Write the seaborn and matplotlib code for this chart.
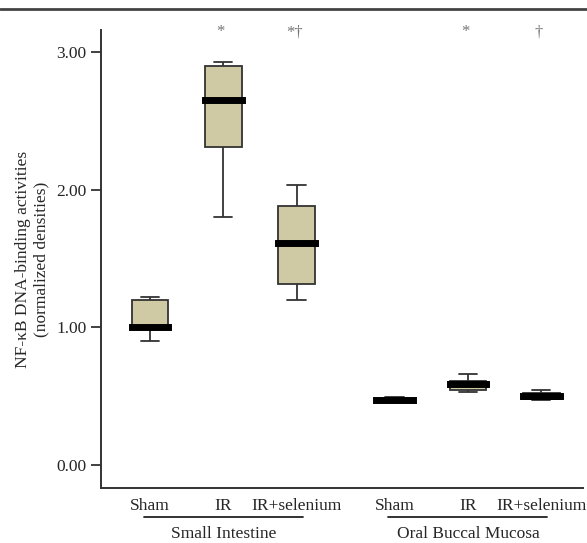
import matplotlib
matplotlib.use('Agg')
import matplotlib.pyplot as plt
import numpy as np
import pandas as pd
import seaborn as sns
from matplotlib.lines import Line2D

TISSUES = ['Small Intestine', 'Oral Buccal Mucosa']
TREATMENTS = ['Sham', 'IR', 'IR+selenium']
# five values per box: min, Q1, median, Q3, max
SI_SHAM = [0.90, 1.00, 1.00, 1.20, 1.22]
SI_IR = [1.80, 2.31, 2.65, 2.90, 2.93]
SI_IRSE = [1.20, 1.31, 1.61, 1.88, 2.03]
OB_SHAM = [0.46, 0.465, 0.47, 0.48, 0.49]
OB_IR = [0.53, 0.545, 0.585, 0.61, 0.66]
OB_IRSE = [0.47, 0.475, 0.50, 0.52, 0.54]
MARKS = ['', '*', '*\u2020', '', '*', '\u2020']

rows = []
for tissue, groups in zip(TISSUES, [[SI_SHAM, SI_IR, SI_IRSE], [OB_SHAM, OB_IR, OB_IRSE]]):
    for treat, vals in zip(TREATMENTS, groups):
        for v in vals:
            rows.append({'tissue': tissue, 'treatment': treat, 'value': v})
df = pd.DataFrame(rows)

sns.set_style('white')
plt.rcParams['font.family'] = ['Liberation Serif', 'DejaVu Serif']

fig = plt.figure(figsize=(5.87, 5.43), dpi=100)
ax = fig.add_axes([0.172, 0.101, 0.821, 0.844])

WIDTH = 0.9
sns.boxplot(data=df, x='tissue', y='value', hue='treatment', order=TISSUES, hue_order=TREATMENTS,
            palette=['#d6d09c'] * 3, width=WIDTH, gap=0.5, whis=(0, 100), linecolor='#333333',
            linewidth=1.3, legend=False, ax=ax,
            medianprops=dict(color='black', linewidth=5, solid_capstyle='projecting'))

ax.set_ylim(-0.17, 3.16)
ax.set_xlim(-0.5, 1.47)
ax.set_yticks([0, 1, 2, 3])
ax.set_yticklabels(['0.00', '1.00', '2.00', '3.00'], fontsize=12.5)
ax.tick_params(axis='y', direction='out', length=7, width=1.3, color='#333333', left=True)

offsets = (np.arange(len(TREATMENTS)) - 1) * WIDTH / len(TREATMENTS)
xt = [g + o for g in range(len(TISSUES)) for o in offsets]
ax.set_xticks(xt)
ax.set_xticklabels(TREATMENTS * 2, fontsize=12.5)
ax.tick_params(axis='x', length=0, pad=7)
ax.set_xlabel('')
ax.set_ylabel('NF-\u03baB DNA-binding activities\n(normalized densities)', fontsize=12.5, labelpad=5)

for s in ['top', 'right']:
    ax.spines[s].set_visible(False)
for s in ['left', 'bottom']:
    ax.spines[s].set_color('#333333')
    ax.spines[s].set_linewidth(1.4)

trans = ax.get_xaxis_transform()
for g, name in enumerate(TISSUES):
    ax.plot([g - 0.325, g + 0.325], [-0.064, -0.064], color='#222222', lw=1.3,
            transform=trans, clip_on=False)
    ax.text(g, -0.099, name, transform=trans, ha='center', va='center', fontsize=12.5)

for x, m in zip(xt, MARKS):
    if m:
        ax.text(x - 0.01, 0.995, m, transform=trans, ha='center', va='center', fontsize=12,
                color='#777777')

fig.add_artist(Line2D([0, 1], [0.983, 0.983], color='#444444', lw=2, transform=fig.transFigure))

fig.savefig('out.png', dpi=100)
